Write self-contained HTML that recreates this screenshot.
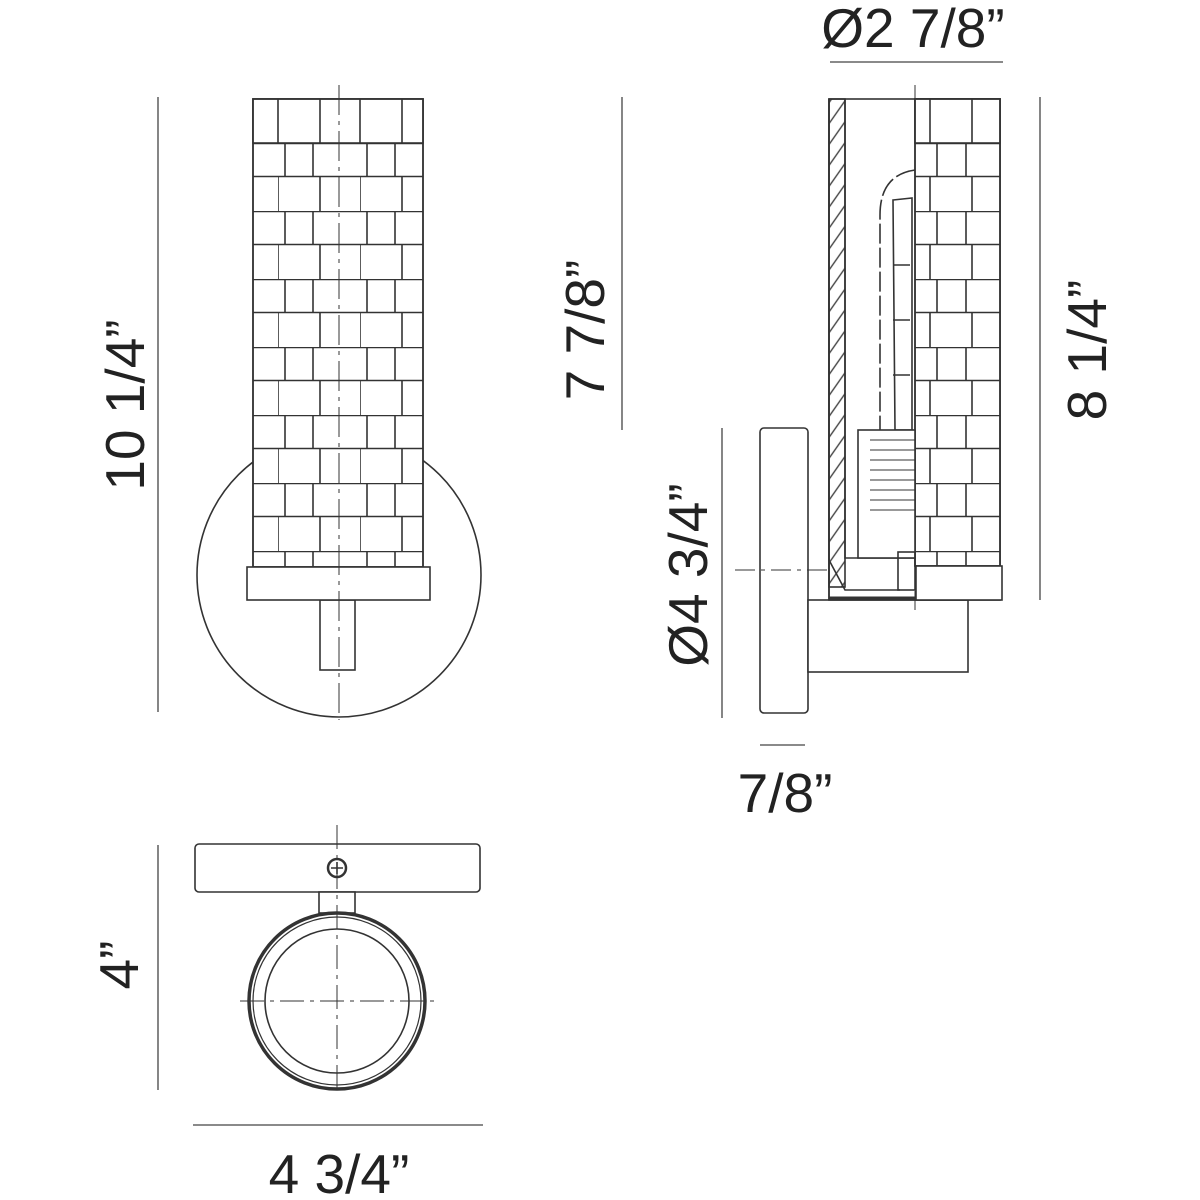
<!DOCTYPE html>
<html><head><meta charset="utf-8"><style>
html,body{margin:0;padding:0;background:#fff}
svg{display:block}
text{font-family:"Liberation Sans",Arial,sans-serif;font-size:55px;fill:#222}
</style></head><body>
<svg width="1200" height="1200" viewBox="0 0 1200 1200" xmlns="http://www.w3.org/2000/svg">
<defs>
<pattern id="wf" patternUnits="userSpaceOnUse" x="278" y="143" width="82" height="68">
<rect width="82" height="68" fill="#fff"/>
<path d="M0 0.5H82M0 33.5H82M7 0V33M35 0V33M0 33V68M42 33V68" stroke="#333" stroke-width="1.6" fill="none"/>
</pattern>
<pattern id="ws" patternUnits="userSpaceOnUse" x="915" y="143" width="200" height="68">
<rect width="200" height="68" fill="#fff"/>
<path d="M0 0.5H200M0 33.5H200M22 0V33M51 0V33M15 33V68M57 33V68" stroke="#333" stroke-width="1.6" fill="none"/>
</pattern>
<pattern id="hatch" patternUnits="userSpaceOnUse" width="16" height="12" patternTransform="rotate(-55)">
<line x1="0" y1="6" x2="16" y2="6" stroke="#444" stroke-width="1.4"/>
</pattern>
</defs>
<g stroke="#333" stroke-width="1.6" fill="none">
<circle cx="339" cy="575" r="142" fill="#fff"/>
<rect x="320" y="600" width="35" height="70" fill="#fff"/>
<rect x="253" y="99" width="170" height="468" fill="url(#wf)"/>
<rect x="253" y="99" width="170" height="44" fill="#fff"/>
<path d="M278 99V143M320 99V143M360 99V143M402 99V143"/>
<rect x="253" y="99" width="170" height="468"/>
<rect x="247" y="567" width="183" height="33" fill="#fff"/>
<line x1="339" y1="85" x2="339" y2="720" stroke-width="1" stroke-dasharray="30,6,4,6"/>
<rect x="760" y="428" width="48" height="285" rx="4" fill="#fff"/>
<rect x="808" y="600" width="160" height="72" fill="#fff"/>
<rect x="829" y="99" width="171" height="501" fill="#fff"/>
<rect x="829" y="99" width="16" height="488" fill="url(#hatch)"/>
<path d="M845 99V558H915M829 99V600"/>
<path d="M829 560L845 590H900"/>
<rect x="915" y="99" width="85" height="467" fill="url(#ws)"/>
<rect x="915" y="99" width="85" height="44" fill="#fff"/>
<path d="M930 99V143M972 99V143"/>
<rect x="915" y="99" width="85" height="467"/>
<rect x="916" y="566" width="86" height="34" fill="#fff"/>
<path d="M915 170Q880 175 880 215V430" stroke-dasharray="20,4"/>
<path d="M893 200L912 198V430H895Z"/>
<path d="M893 265H910M893 320H910M893 375H910"/>
<rect x="858" y="430" width="57" height="128" fill="#fff"/>
<path d="M870 440H915M870 450H915M870 460H915M870 470H915M870 480H915M870 490H915M870 500H915M870 510H915" stroke-width="1"/>
<rect x="898" y="552" width="17" height="38"/>
<line x1="829" y1="598" x2="915" y2="598" stroke-width="3"/>
<line x1="735" y1="570" x2="828" y2="570" stroke-width="1" stroke-dasharray="20,6,4,6"/>
<line x1="915" y1="85" x2="915" y2="610" stroke-width="1" stroke-dasharray="30,6,4,6"/>
<rect x="195" y="844" width="285" height="48" rx="4" fill="#fff"/>
<circle cx="337" cy="868" r="9" stroke-width="2.5"/>
<path d="M331 868H343M337 862V874"/>
<rect x="319" y="892" width="36" height="21" fill="#fff"/>
<circle cx="337" cy="1001" r="88" stroke-width="3.5" fill="#fff"/>
<circle cx="337" cy="1001" r="84" stroke-width="1.2"/>
<circle cx="337" cy="1001" r="72"/>
<line x1="337" y1="825" x2="337" y2="1095" stroke-width="1" stroke-dasharray="24,6,4,6"/>
<line x1="240" y1="1001" x2="440" y2="1001" stroke-width="1" stroke-dasharray="24,6,4,6"/>
<g stroke="#444" stroke-width="1.3">
<line x1="158" y1="97" x2="158" y2="712"/>
<line x1="622" y1="97" x2="622" y2="430"/>
<line x1="1040" y1="97" x2="1040" y2="600"/>
<line x1="722" y1="428" x2="722" y2="718"/>
<line x1="830" y1="62" x2="1003" y2="62"/>
<line x1="760" y1="745" x2="805" y2="745"/>
<line x1="158" y1="845" x2="158" y2="1090"/>
<line x1="193" y1="1125" x2="483" y2="1125"/>
</g>
</g>
<text transform="translate(144,405) rotate(-90)" text-anchor="middle">10 1/4”</text>
<text transform="translate(604,330) rotate(-90)" text-anchor="middle">7 7/8”</text>
<text transform="translate(1106,350) rotate(-90)" text-anchor="middle">8 1/4”</text>
<text transform="translate(707,575) rotate(-90)" text-anchor="middle">Ø4 3/4”</text>
<text transform="translate(138,965) rotate(-90)" text-anchor="middle">4”</text>
<text x="913" y="47" text-anchor="middle">Ø2 7/8”</text>
<text x="785" y="812" text-anchor="middle">7/8”</text>
<text x="339" y="1193" text-anchor="middle">4 3/4”</text>
</svg>
</body></html>
